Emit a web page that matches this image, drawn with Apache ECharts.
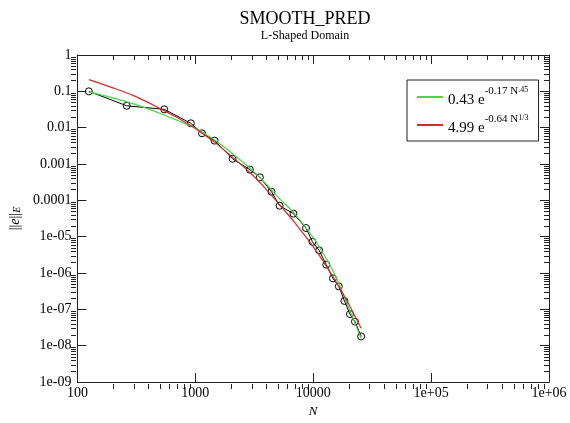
<!DOCTYPE html>
<html>
<head>
<meta charset="utf-8">
<script src="https://cdn.jsdelivr.net/npm/echarts@6/dist/echarts.min.js"></script>
<style>
html, body { margin: 0; padding: 0; background: #fff; }
#chart { width: 570px; height: 423px; }
</style>
</head>
<body>
<div id="chart"></div>
<script>
// measured error vs degrees of freedom
var nData = [125, 262, 545, 916, 1140, 1455, 2070, 2900, 3530, 4430, 5190, 6800, 8690, 9860, 11220, 12900, 14700, 16500, 18400, 20500, 22600, 25500];
var errData = [0.1, 0.040, 0.032, 0.0132, 0.0070, 0.0044, 0.00139, 0.0007, 0.00043, 0.000172, 7.1e-5, 4.3e-5, 1.73e-5, 7.2e-6, 4.2e-6, 1.7e-6, 7.1e-7, 4.3e-7, 1.7e-7, 7.4e-8, 4.6e-8, 1.8e-8];

// fitted curves
var fitN = [125, 200, 300, 500, 700, 1000, 1500, 2000, 3000, 4000, 5000, 7000, 10000, 13000, 16000, 20000, 25500];
var greenFit = [0.097, 0.066, 0.045, 0.025, 0.016, 0.0098, 0.0043, 0.0021, 0.0007, 0.00028, 0.000125, 4.2e-5, 9.5e-6, 2.4e-6, 6.5e-7, 1.1e-7, 1.6e-8];
var redFit = [0.21, 0.125, 0.076, 0.034, 0.019, 0.0095, 0.0037, 0.0017, 0.00053, 0.0002, 8.7e-5, 2.4e-5, 5.3e-6, 1.5e-6, 5.0e-7, 1.4e-7, 3.0e-8];

var xTickLabels = {2: '100', 3: '1000', 4: '10000', 5: '1e+05', 6: '1e+06'};
var yTickLabels = {0: '1', '-1': '0.1', '-2': '0.01', '-3': '0.001', '-4': '0.0001', '-5': '1e-05', '-6': '1e-06', '-7': '1e-07', '-8': '1e-08', '-9': '1e-09'};

var font = 'Liberation Serif';
var G = { left: 71, right: 21, top: 55, bottom: 34 };

function zip(a, b) {
	var out = [];
	for (var i = 0; i < a.length; i++) out.push([a[i], b[i]]);
	return out;
}

var chart = echarts.init(document.getElementById('chart'));

var axisCommon = {
	type: 'log',
	logBase: 10,
	axisLine: { show: true, lineStyle: { color: '#222', width: 1 } },
	axisTick: { show: true, inside: true, length: 9, lineStyle: { color: '#222' } },
	splitLine: { show: false }
};

var option = {
	animation: false,
	backgroundColor: '#fff',
	title: [
		{ text: 'SMOOTH_PRED', left: 300, top: 5, textAlign: 'center',
		  textStyle: { fontFamily: font, fontSize: 18, fontWeight: 'normal', color: '#000' } },
		{ text: 'L-Shaped Domain', left: 300, top: 25, textAlign: 'center',
		  textStyle: { fontFamily: font, fontSize: 12, fontWeight: 'normal', color: '#000' } }
	],
	grid: G,
	legend: {
		left: 407, top: 80, orient: 'vertical',
		data: ['green', 'red'],
		backgroundColor: '#fff',
		borderColor: '#222', borderWidth: 1,
		borderRadius: 0,
		padding: [5, 10, 5, 10],
		itemGap: 5,
		itemWidth: 26, itemHeight: 2,
		icon: 'rect',
		formatter: function (name) {
			if (name === 'green') return '{b|0.43 e}{s|-0.17 N}{ss|.45}';
			return '{b|4.99 e}{s|-0.64 N}{ss|1/3}';
		},
		textStyle: {
			fontFamily: font, color: '#000',
			rich: {
				b: { fontFamily: font, fontSize: 15, lineHeight: 22, verticalAlign: 'bottom', padding: [8, 0, 0, 0] },
				s: { fontFamily: font, fontSize: 11, lineHeight: 22, verticalAlign: 'top', padding: [0, 0, 8, 0] },
				ss: { fontFamily: font, fontSize: 8, lineHeight: 22, verticalAlign: 'top', padding: [0, 0, 12, 0] }
			}
		}
	},
	xAxis: [
		echarts.util.merge({
			min: 100, max: 1e6, splitNumber: 4,
			position: 'bottom',
			name: 'N', nameLocation: 'middle', nameGap: 23,
			nameTextStyle: { fontFamily: font, fontStyle: 'italic', fontSize: 13, color: '#000' },
			axisLabel: {
				fontFamily: font, fontSize: 14, color: '#000', margin: 4,
				formatter: function (v) { return xTickLabels[Math.round(Math.log10(v))] || ''; }
			}
		}, axisCommon, true),
		echarts.util.merge({
			min: 100, max: 1e6, splitNumber: 4,
			position: 'top',
			axisLabel: { show: false }
		}, axisCommon, true)
	],
	yAxis: [
		echarts.util.merge({
			min: 1e-9, max: 1, splitNumber: 9,
			position: 'left',
			name: '{n|||}{i|e}{n|||}{sub|E}', nameLocation: 'middle', nameGap: 50, nameRotate: 90,
			nameTextStyle: {
				fontFamily: font, fontSize: 14, color: '#000',
				rich: {
					n: { fontFamily: font, fontSize: 14, verticalAlign: 'bottom' },
					i: { fontFamily: font, fontSize: 14, fontStyle: 'italic', verticalAlign: 'bottom' },
					sub: { fontFamily: font, fontSize: 10, fontStyle: 'italic', verticalAlign: 'bottom', padding: [5, 0, 0, 0] }
				}
			},
			axisLabel: {
				fontFamily: font, fontSize: 14, color: '#000', margin: 6,
				formatter: function (v) { return yTickLabels[Math.round(Math.log10(v))] || ''; }
			}
		}, axisCommon, true),
		echarts.util.merge({
			min: 1e-9, max: 1, splitNumber: 9,
			position: 'right',
			axisLabel: { show: false }
		}, axisCommon, true)
	],
	series: [
		{
			name: 'data', type: 'line', xAxisIndex: 0, yAxisIndex: 0,
			data: zip(nData, errData),
			symbol: 'circle', symbolSize: 7,
			itemStyle: { color: 'rgba(0,0,0,0)', borderColor: '#000', borderWidth: 1 },
			lineStyle: { color: '#000', width: 1 },
			z: 2
		},
		{
			name: 'green', type: 'line', xAxisIndex: 0, yAxisIndex: 0,
			data: zip(fitN, greenFit), smooth: 0.3,
			showSymbol: false, symbol: 'none',
			itemStyle: { color: '#44d644' },
			lineStyle: { color: '#44d644', width: 1.2 },
			z: 3
		},
		{
			name: 'red', type: 'line', xAxisIndex: 0, yAxisIndex: 0,
			data: zip(fitN, redFit), smooth: 0.3,
			showSymbol: false, symbol: 'none',
			itemStyle: { color: '#d42a2a' },
			lineStyle: { color: '#d42a2a', width: 1.2 },
			z: 4
		}
	]
};

chart.setOption(option);

// minor log ticks (2..9 of every decade) on all four sides
function minorTicks() {
	var els = [];
	var top = G.top, bottom = 423 - G.bottom, left = G.left, right = 570 - G.right;
	var style = { stroke: '#222', lineWidth: 1 };
	var d, k, p;
	for (d = 2; d < 6; d++) {
		for (k = 2; k < 10; k++) {
			p = Math.round(chart.convertToPixel({ xAxisIndex: 0 }, k * Math.pow(10, d))) + 0.5;
			els.push({ type: 'line', shape: { x1: p, y1: bottom, x2: p, y2: bottom - 5 }, style: style, silent: true });
			els.push({ type: 'line', shape: { x1: p, y1: top, x2: p, y2: top + 5 }, style: style, silent: true });
		}
	}
	for (d = -9; d < 0; d++) {
		for (k = 2; k < 10; k++) {
			p = Math.round(chart.convertToPixel({ yAxisIndex: 0 }, k * Math.pow(10, d))) + 0.5;
			els.push({ type: 'line', shape: { x1: left, y1: p, x2: left + 5, y2: p }, style: style, silent: true });
			els.push({ type: 'line', shape: { x1: right, y1: p, x2: right - 5, y2: p }, style: style, silent: true });
		}
	}
	chart.setOption({ graphic: els });
}
minorTicks();
</script>
</body>
</html>
